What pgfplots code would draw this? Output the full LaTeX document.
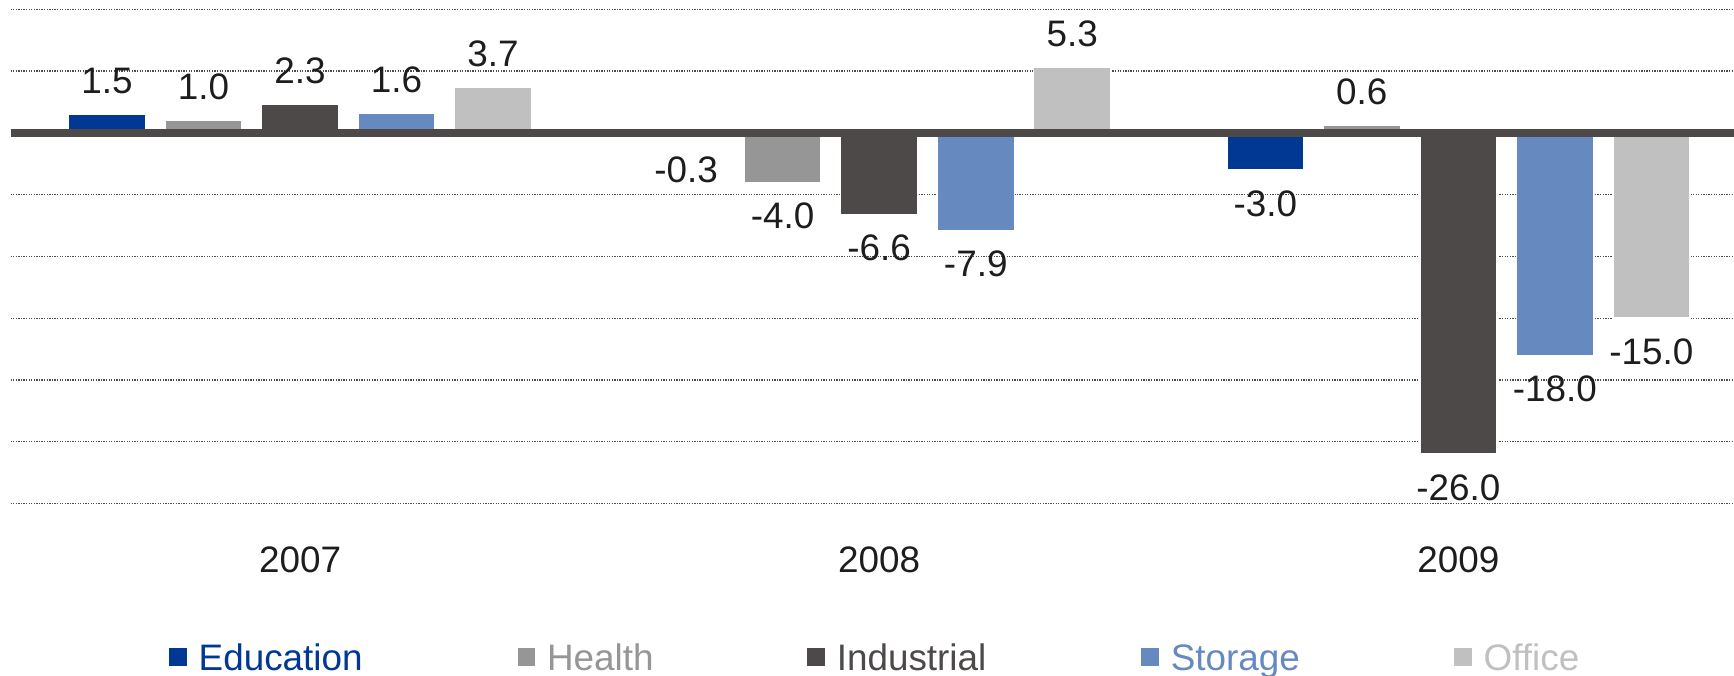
\documentclass[border=0pt]{standalone}
\usepackage{fontspec}
\setmainfont{Liberation Sans}
\usepackage{pgfplots}
\pgfplotsset{compat=1.18}

\definecolor{edu}{RGB}{0,56,147}
\definecolor{hea}{RGB}{150,150,150}
\definecolor{ind}{RGB}{77,73,72}
\definecolor{sto}{RGB}{102,137,192}
\definecolor{off}{RGB}{192,192,192}
\definecolor{lbl}{RGB}{30,28,28}

\begin{document}
\begin{tikzpicture}
\path[use as bounding box] (-2.85pt,-46.7pt) rectangle (467.55pt,136.6pt);
\begin{axis}[
  at={(0,0)}, anchor=south west,
  scale only axis, width=467.55pt, height=136.6pt,
  xmin=-0.5, xmax=2.476, ymin=-30, ymax=10.75,
  ybar, bar width=0.133,
  axis line style={draw=none},
  major tick length=0pt,
  ytick={-30,-25,...,10}, yticklabels={},
  ymajorgrids,
  grid style={color=black!70, line width=0.35pt, dash pattern=on 0.35pt off 0.35pt},
  xtick={0,1,2}, xticklabels={2007,2008,2009},
  xticklabel style={anchor=north, inner sep=0pt, yshift=-11.5pt,
    font=\fontsize{10}{12}\selectfont, text=lbl},
  /pgf/number format/assume math mode=true,
  nodes near coords={\pgfmathprintnumber[fixed,fixed zerofill,precision=1]{\pgfplotspointmeta}},
  nodes near coords style={font=\fontsize{10}{12}\selectfont, text=lbl,
    inner xsep=0pt, inner ysep=5.4pt},
  every axis plot/.append style={draw=white, line width=0.4pt},
]
\addplot[fill=edu, bar shift=-0.3333] coordinates {(0,1.5) (1,-0.3) (2,-3.0)};
\addplot[fill=hea, bar shift=-0.1667] coordinates {(0,1.0) (1,-4.0) (2,0.6)};
\addplot[fill=ind, bar shift=0]       coordinates {(0,2.3) (1,-6.6) (2,-26.0)};
\addplot[fill=sto, bar shift=0.1667]  coordinates {(0,1.6) (1,-7.9) (2,-18.0)};
\addplot[fill=off, bar shift=0.3333]  coordinates {(0,3.7) (1,5.3) (2,-15.0)};
% zero baseline over the bars
\draw[color=ind, line width=2.1pt] (axis cs:-0.5,0) -- (axis cs:2.476,0);
\end{axis}
% legend
\foreach \x/\c/\t in {43.05/edu/Education, 137.55/hea/Health, 216.15/ind/Industrial,
                      306.75/sto/Storage, 391.65/off/Office}{
  \fill[\c] (\x pt,-44.2pt) rectangle ++(4.8pt,5pt);
  \node[anchor=base west, inner sep=0pt, text=\c, font=\fontsize{10}{12}\selectfont]
    at (\x pt+7.8pt,-45.2pt) {\t};
}
\end{tikzpicture}
\end{document}
